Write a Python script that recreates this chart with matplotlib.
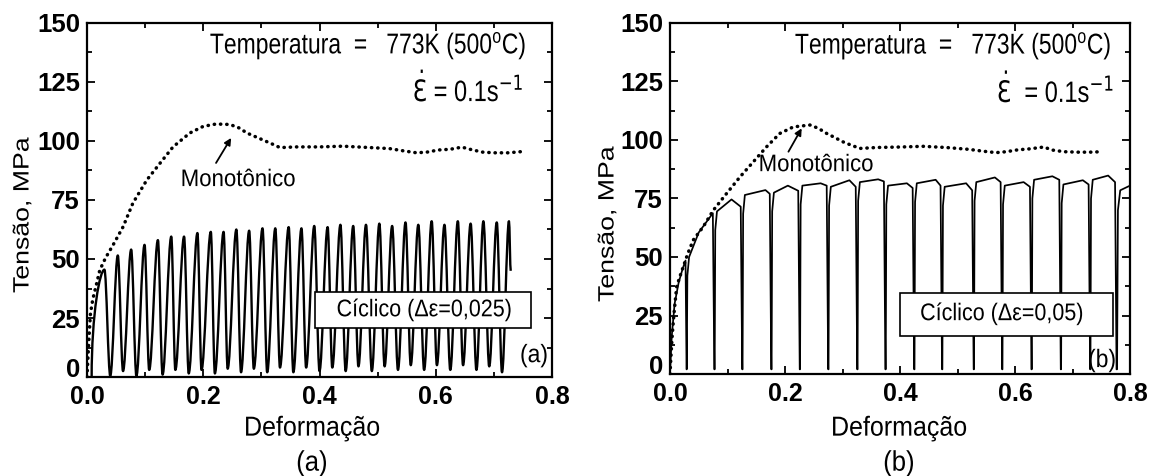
import matplotlib
matplotlib.use("Agg")
import matplotlib.pyplot as plt
import matplotlib.patheffects as pe
from matplotlib.path import Path
from matplotlib.patches import PathPatch, Rectangle
from matplotlib.transforms import Affine2D
from matplotlib.ticker import MultipleLocator

plt.rcParams["font.family"] = ["Liberation Sans", "DejaVu Sans"]
plt.rcParams["mathtext.fontset"] = "custom"
plt.rcParams["mathtext.rm"] = "Liberation Sans"
plt.rcParams["mathtext.it"] = "Liberation Sans:italic"
plt.rcParams["mathtext.bf"] = "Liberation Sans:bold"

# ---------------- data ----------------
x_ticks = [0.0, 0.2, 0.4, 0.6, 0.8]
x_tick_labels = ["0.0", "0.2", "0.4", "0.6", "0.8"]
y_ticks = [0, 25, 50, 75, 100, 125, 150]
y_tick_labels = ["0", "25", "50", "75", "100", "125", "150"]

# monotonic test, panel (a)
mono_a_strain = [0.0, 0.002, 0.004, 0.006, 0.010, 0.016, 0.022, 0.032, 0.045, 0.062,
                 0.079, 0.103, 0.126, 0.148, 0.177, 0.200, 0.222, 0.246, 0.262, 0.275,
                 0.290, 0.303, 0.318, 0.332, 0.360, 0.400, 0.440, 0.480, 0.520, 0.545,
                 0.567, 0.585, 0.605, 0.625, 0.645, 0.662, 0.680, 0.700, 0.725, 0.752]
mono_a_stress = [0.0, 10.0, 19.0, 27.0, 33.0, 39.0, 45.3, 50.5, 56.0, 63.6,
                 73.7, 83.5, 90.7, 97.5, 103.4, 106.2, 107.2, 107.0, 105.5, 103.4,
                 101.8, 100.4, 98.8, 97.2, 97.5, 97.5, 97.8, 97.3, 96.8, 95.8,
                 95.0, 95.3, 96.2, 96.5, 97.4, 96.3, 95.3, 95.0, 95.0, 95.6]

# monotonic test, panel (b)
mono_b_strain = [0.0, 0.002, 0.004, 0.007, 0.0116, 0.017, 0.023, 0.031, 0.0406, 0.058,
                 0.0754, 0.0986, 0.122, 0.145, 0.168, 0.191, 0.2145, 0.2435, 0.258, 0.2725,
                 0.287, 0.300, 0.315, 0.3304, 0.360, 0.400, 0.440, 0.480, 0.520, 0.545,
                 0.567, 0.585, 0.605, 0.625, 0.650, 0.665, 0.685, 0.710, 0.730, 0.752]
mono_b_stress = [0.0, 9.0, 17.0, 26.0, 37.3, 41.5, 45.8, 51.5, 57.3, 63.0,
                 70.0, 77.2, 84.3, 90.7, 97.1, 102.8, 105.6, 106.4, 105.0, 102.8,
                 101.0, 99.3, 97.8, 96.4, 96.8, 97.0, 97.3, 96.8, 96.0, 95.2,
                 94.6, 95.0, 95.8, 96.2, 97.0, 95.7, 95.0, 94.8, 94.8, 95.0]

# cyclic test (a), strain amplitude 0.025: loop maxima and minima
cyc_a_start = [0.008, 0.0]
cyc_a_peak_strain = [0.030, 0.053, 0.076, 0.099, 0.122, 0.145, 0.167, 0.190, 0.213, 0.235,
                     0.257, 0.279, 0.302, 0.324, 0.347, 0.369, 0.391, 0.414, 0.436, 0.458,
                     0.480, 0.503, 0.525, 0.548, 0.570, 0.593, 0.615, 0.638, 0.660, 0.682,
                     0.705, 0.726]
cyc_a_peak_stress = [45.5, 51.5, 54.0, 56.0, 58.0, 59.5, 59.5, 61.0, 61.5, 61.5,
                     62.5, 62.0, 63.0, 63.0, 63.5, 63.0, 64.0, 63.5, 64.5, 64.0,
                     64.5, 65.0, 64.0, 65.5, 64.5, 66.0, 64.5, 66.0, 65.0, 66.0,
                     65.5, 66.0]
cyc_a_valley_strain = [0.040, 0.062, 0.085, 0.107, 0.130, 0.152, 0.175, 0.197, 0.220, 0.242,
                       0.265, 0.287, 0.310, 0.332, 0.355, 0.377, 0.400, 0.422, 0.445, 0.467,
                       0.490, 0.512, 0.535, 0.557, 0.580, 0.602, 0.625, 0.647, 0.670, 0.692,
                       0.714]
cyc_a_valley_stress = [0.5, 2.5, 0.5, 3.0, 1.0, 3.0, 1.5, 3.0, 1.5, 3.5,
                       2.0, 3.5, 2.0, 4.0, 2.0, 4.0, 2.5, 4.0, 2.5, 4.5,
                       2.5, 4.5, 3.0, 5.0, 3.0, 5.0, 3.0, 5.0, 3.0, 4.5,
                       2.0]
cyc_a_end = [0.729, 45.0]

# cyclic test (b), strain amplitude 0.05
cyc_b_first_strain = [0.0, 0.003, 0.008, 0.015, 0.022, 0.027]
cyc_b_first_stress = [0.0, 16.0, 30.0, 39.0, 45.0, 48.5]
cyc_b_unload = [0.028, 0.0765, 0.125, 0.1755, 0.225, 0.2745, 0.325, 0.374,
                0.424, 0.4725, 0.5275, 0.577, 0.628, 0.679, 0.730, 0.776]
cyc_b_top_start = [50.0, 69.5, 76.5, 77.5, 80.5, 80.0, 82.0, 80.5,
                   81.5, 80.0, 82.0, 80.5, 83.0, 81.0, 83.0]
cyc_b_top_mid_strain = [0.050, 0.107, 0.166, 0.205, 0.262, 0.312, 0.362, 0.412,
                        0.462, 0.515, 0.565, 0.615, 0.665, 0.718, 0.762]
cyc_b_top_mid = [60.5, 74.6, 78.6, 80.5, 81.5, 82.8, 83.2, 81.5,
                 83.0, 81.5, 84.0, 82.0, 84.5, 82.8, 84.8]
cyc_b_top_end = [68.7, 71.5, 77.0, 78.3, 80.5, 80.0, 82.3, 79.5,
                 80.5, 78.5, 82.0, 80.0, 83.0, 81.0, 82.0]
cyc_b_valley = 2.0
cyc_b_last_strain = [0.7775, 0.779, 0.783, 0.800]
cyc_b_last_stress = [2.0, 70.0, 78.5, 80.5]


# ---------------- helpers ----------------
class VStretch(pe.AbstractPathEffect):
    """Draws text glyphs stretched vertically about their own centre."""

    def __init__(self, factor):
        super().__init__()
        self.factor = factor

    def draw_path(self, renderer, gc, tpath, affine, rgbFace=None):
        ext = tpath.get_extents(affine)
        cy = 0.5 * (ext.y0 + ext.y1)
        tr = affine + Affine2D().translate(0, -cy).scale(1, self.factor).translate(0, cy)
        renderer.draw_path(gc, tpath, tr, rgbFace)


def wave_path(xs, ys, c=0.35):
    """Smooth loop path through alternating extrema (horizontal tangents)."""
    verts = [(xs[0], ys[0])]
    codes = [Path.MOVETO]
    for i in range(1, len(xs)):
        x0, y0, x1, y1 = xs[i - 1], ys[i - 1], xs[i], ys[i]
        dx = x1 - x0
        if i == 1:
            c1 = (x0, y0 + 0.6 * (y1 - y0))
        else:
            c1 = (x0 + c * dx, y0)
        c2 = (x1 - c * dx, y1)
        verts += [c1, c2, (x1, y1)]
        codes += [Path.CURVE4] * 3
    return Path(verts, codes)


def style_axes(ax):
    ax.set_xlim(0, 0.8)
    ax.set_ylim(0, 150)
    ax.set_xticks(x_ticks)
    ax.set_xticklabels(x_tick_labels)
    ax.set_yticks(y_ticks)
    ax.set_yticklabels(y_tick_labels)
    ax.xaxis.set_minor_locator(MultipleLocator(0.1))
    ax.yaxis.set_minor_locator(MultipleLocator(12.5))
    ax.tick_params(which="both", direction="in", top=True, right=True, width=1.3)
    ax.tick_params(which="major", length=6)
    ax.tick_params(which="minor", length=3.5)
    ax.tick_params(axis="x", pad=6, labelsize=18)
    ax.tick_params(axis="y", pad=5, labelsize=18.5)
    for lab in ax.get_xticklabels() + ax.get_yticklabels():
        lab.set_fontweight("bold")
    # zero stress label sits on the baseline, just above the strain labels
    ax.get_yticklabels()[0].set_verticalalignment("baseline")
    for s in ax.spines.values():
        s.set_linewidth(1.6)


def mono_line(ax, xs, ys):
    ax.plot(xs, ys, color="black", lw=2.5, linestyle=(0, (0.1, 1.7)),
            dash_capstyle="round", zorder=3)


TXT = 16
fig = plt.figure(figsize=(11.57, 4.76), dpi=100)
axA = fig.add_axes([87 / 1157, 1 - 377 / 476, 465 / 1157, 354 / 476])
axB = fig.add_axes([670 / 1157, 1 - 374 / 476, 460 / 1157, 351 / 476])

# ---------------- panel (a) ----------------
mono_line(axA, mono_a_strain, mono_a_stress)
xs = [cyc_a_start[0]]
ys = [cyc_a_start[1]]
for i in range(len(cyc_a_peak_strain)):
    xs.append(cyc_a_peak_strain[i])
    ys.append(cyc_a_peak_stress[i])
    if i < len(cyc_a_valley_strain):
        xs.append(cyc_a_valley_strain[i])
        ys.append(cyc_a_valley_stress[i])
xs.append(cyc_a_end[0])
ys.append(cyc_a_end[1])
axA.add_patch(PathPatch(wave_path(xs, ys), fill=False, ec="black", lw=1.7,
                        joinstyle="round", zorder=2))

# ---------------- panel (b) ----------------
mono_line(axB, mono_b_strain, mono_b_stress)
bx = list(cyc_b_first_strain) + [cyc_b_unload[0] + 0.0008]
by = list(cyc_b_first_stress) + [cyc_b_valley]
for i in range(len(cyc_b_top_start)):
    u0 = cyc_b_unload[i]
    u1 = cyc_b_unload[i + 1]
    bx += [u0 + 0.0012, u0 + 0.0022, u0 + 0.0052, cyc_b_top_mid_strain[i],
           u1 - 0.0020, u1 + 0.0006]
    by += [cyc_b_valley, cyc_b_top_start[i] - 8, cyc_b_top_start[i], cyc_b_top_mid[i],
           cyc_b_top_end[i], cyc_b_valley]
bx += cyc_b_last_strain
by += cyc_b_last_stress
axB.plot(bx, by, color="black", lw=1.25, solid_joinstyle="round", zorder=2)

for ax in (axA, axB):
    style_axes(ax)

# condition annotations
cond_a = dict(x=0.944, y=0.937, x2=0.939, y2=0.816)
cond_b = dict(x=0.9587, y=0.936, x2=0.966, y2=0.812)
for ax, c, gap in ((axA, cond_a, " "), (axB, cond_b, "  ")):
    ax.text(c["x"], c["y"], "Temperatura  =   773K (500$^{\\mathrm{o}}$C)",
            transform=ax.transAxes, ha="right", va="center", fontsize=16.5,
            path_effects=[VStretch(1.25)], zorder=7)
    ax.text(c["x2"], c["y2"], "$\\dot{\\mathrm{Ɛ}}$" + gap + "= 0.1s$^{-1}$",
            transform=ax.transAxes, ha="right", va="center", fontsize=17,
            math_fontfamily="dejavusans", path_effects=[VStretch(1.25)], zorder=7)

# Monotonic labels and arrows
axA.text(0.260, 83.5, "Monotônico", ha="center", va="center", fontsize=TXT,
         path_effects=[VStretch(1.08)])
axA.annotate("", xy=(0.248, 101.3), xytext=(0.222, 90.7),
             arrowprops=dict(arrowstyle="-|>", lw=1.3, color="black", mutation_scale=10,
                             shrinkA=0, shrinkB=0))
axB.text(0.254, 89.3, "Monotônico", ha="center", va="center", fontsize=TXT,
         path_effects=[VStretch(1.08)])
axB.annotate("", xy=(0.229, 105.0), xytext=(0.206, 95.0),
             arrowprops=dict(arrowstyle="-|>", lw=1.3, color="black", mutation_scale=10,
                             shrinkA=0, shrinkB=0))

# cyclic label boxes
axA.add_patch(Rectangle((0.490, 0.138), 0.465, 0.102, transform=axA.transAxes,
                        fc="white", ec="black", lw=1.2, zorder=5))
axA.text(0.725, 0.189, "Cíclico (Δε=0,025)", transform=axA.transAxes, ha="center",
         va="center", fontsize=15.5, zorder=6, path_effects=[VStretch(1.12)])
axB.add_patch(Rectangle((0.500, 0.108), 0.463, 0.123, transform=axB.transAxes,
                        fc="white", ec="black", lw=1.2, zorder=5))
axB.text(0.721, 0.171, "Cíclico (Δε=0,05)", transform=axB.transAxes, ha="center",
         va="center", fontsize=15.5, zorder=6, path_effects=[VStretch(1.12)])

axA.text(0.961, 0.062, "(a)", transform=axA.transAxes, ha="center", va="center",
         fontsize=16.5, zorder=6, path_effects=[VStretch(1.1)])
axB.text(0.939, 0.040, "(b)", transform=axB.transAxes, ha="center", va="center",
         fontsize=16.5, zorder=6, path_effects=[VStretch(1.1)])

# axis titles and panel captions
for xc, yc in ((23, 215), (608, 224)):
    fig.text(xc / 1157, 1 - yc / 476, "Tensão, MPa", rotation=90, ha="center",
             va="center", fontsize=16, path_effects=[VStretch(1.2)])
for xc, cap in ((312, "(a)"), (899, "(b)")):
    fig.text(xc / 1157, 1 - 428 / 476, "Deformação", ha="center", va="center",
             fontsize=18, path_effects=[VStretch(1.1)])
    fig.text(xc / 1157, 1 - 463 / 476, cap, ha="center", va="center", fontsize=18.5,
             path_effects=[VStretch(1.1)])

fig.savefig("out.png", dpi=100, facecolor="white")
